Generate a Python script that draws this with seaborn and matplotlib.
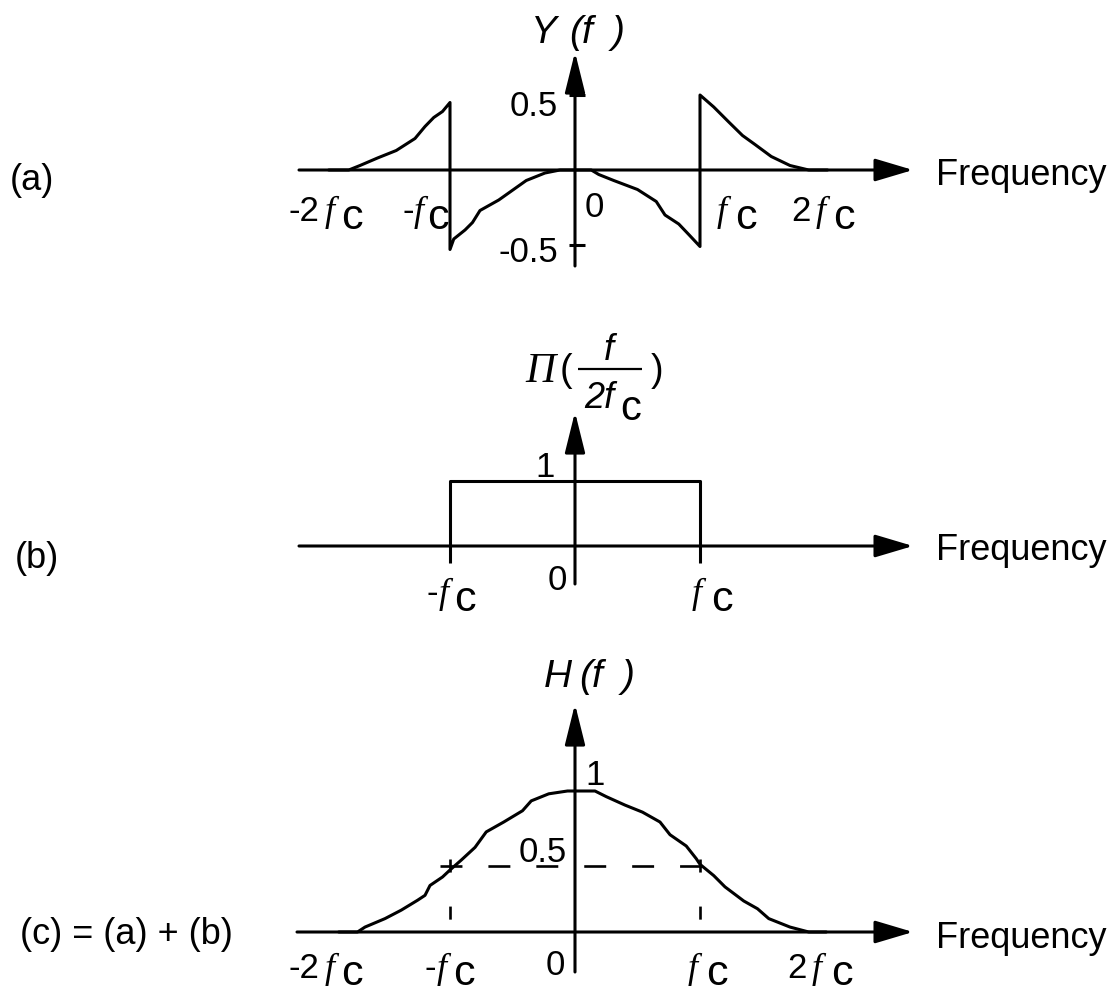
import matplotlib
matplotlib.use("Agg")
import matplotlib.pyplot as plt
import seaborn as sns

sns.set_theme(style="white")
plt.rcParams["font.family"] = ["Liberation Sans", "DejaVu Sans"]
plt.rcParams["text.color"] = "black"
plt.rcParams["lines.scale_dashes"] = False

SANS = "Liberation Sans"
SERIF = "Liberation Serif"
LW = 2.2
PT = 72 / 100  # points per pixel at 100 dpi
NUM = 25       # size of numeric labels

# ---- data (frequency in units of f_c) ----
# (a) Y(f): odd-symmetric correction spectrum
y_freq = [-1.97, -1.81, -1.72, -1.58, -1.43, -1.28, -1.20, -1.13, -1.06, -1.00,
          -1.00, -0.97, -0.88, -0.82, -0.76, -0.61, -0.39, -0.24, -0.12, 0.00,
          0.13, 0.19, 0.31, 0.50, 0.65, 0.72, 0.83, 0.91, 1.00,
          1.00, 1.11, 1.23, 1.34, 1.44, 1.57, 1.72, 1.87, 2.02]
y_vals = [0, 0, 0.03, 0.08, 0.13, 0.21, 0.29, 0.35, 0.39, 0.45,
          -0.53, -0.46, -0.40, -0.35, -0.27, -0.20, -0.07, -0.02, 0, 0,
          0, -0.03, -0.07, -0.13, -0.21, -0.30, -0.36, -0.43, -0.51,
          0.50, 0.42, 0.32, 0.23, 0.17, 0.09, 0.03, 0, 0]

# (b) ideal rectangular low-pass
rect_freq = [-1, -1, 1, 1]
rect_vals = [0, 1, 1, 0]

# (c) H(f) = (a) + (b)
h_freq = [-1.89, -1.74, -1.68, -1.52, -1.39, -1.26, -1.20, -1.16, -1.06, -1.00,
          -0.91, -0.80, -0.71, -0.57, -0.42, -0.35, -0.21, -0.06, 0.16, 0.25,
          0.40, 0.54, 0.68, 0.76, 0.89, 0.97, 1.00, 1.11, 1.20, 1.35,
          1.46, 1.55, 1.72, 1.87, 2.01]
h_vals = [0, 0, 0.035, 0.095, 0.155, 0.225, 0.26, 0.33, 0.39, 0.44,
          0.51, 0.60, 0.71, 0.78, 0.86, 0.93, 0.98, 1.0, 1.0, 0.96,
          0.90, 0.85, 0.78, 0.69, 0.61, 0.52, 0.48, 0.40, 0.32, 0.22,
          0.165, 0.095, 0.035, 0, 0]
h_half = 0.47

y_ticks_a = [0.5, -0.5]
y_ticklabels_a = ["0.5", "-0.5"]

# ---- layout (pixels) ----
W, H = 1120, 995
X0, FC = 575, 125          # pixel column of f = 0, pixels per f_c

fig = plt.figure(figsize=(W / 100, H / 100), dpi=100)


def panel(top, bottom, axis_row, unit):
    ax = fig.add_axes([0, (H - bottom) / H, 1, (bottom - top) / H])
    ax.set_xlim(-X0 / FC, (W - X0) / FC)
    ax.set_ylim(-(bottom - axis_row) / unit, (axis_row - top) / unit)
    return ax


def arrows(ax, unit, x_start_px, y_low_px, y_tip_px):
    hx0 = (x_start_px - X0) / FC
    hx1 = (913 - X0) / FC
    ax.annotate("", xy=(hx1, 0), xytext=(hx0, 0),
                arrowprops=dict(arrowstyle="-|>,head_length=2.35,head_width=0.7",
                                mutation_scale=10, lw=LW, color="black",
                                shrinkA=0, shrinkB=0), annotation_clip=False)
    ax.annotate("", xy=(0, y_tip_px / unit), xytext=(0, -y_low_px / unit),
                arrowprops=dict(arrowstyle="-|>,head_length=2.5,head_width=0.62",
                                mutation_scale=10, lw=LW, color="black",
                                shrinkA=0, shrinkB=0), annotation_clip=False)


def put(ax, s, x, y, dx, dy, size, family=SANS, style="normal", ha="left"):
    ax.annotate(s, xy=(x, y), xytext=(dx * PT, dy * PT), textcoords="offset points",
                ha=ha, va="baseline", fontsize=size, family=family, style=style,
                color="black", annotation_clip=False)


def fc_ticks(ax, specs, base, drop):
    for pos, prefix, dx_pre, dx_f, dx_c in specs:
        if prefix:
            put(ax, prefix, pos, 0, dx_pre, base, NUM)
        put(ax, "f", pos, 0, dx_f, base, 26, SERIF, "italic")
        put(ax, "c", pos, 0, dx_c, base - drop, 31)


def func_label(ax, letter, dxs, dy, size):
    for s, dx in zip([letter, "(", "f", ")"], dxs):
        put(ax, s, 0, 0, dx, dy, size, style="italic")


def curve(ax, xs, ys):
    sns.lineplot(x=xs, y=ys, sort=False, estimator=None, color="black",
                 lw=LW, ax=ax)


# ---------------- (a) ----------------
UA = 150
ax_a = panel(0, 300, 171, UA)
curve(ax_a, y_freq, y_vals)
arrows(ax_a, UA, 299, 96, 118)
ax_a.hlines(y_ticks_a, -6 / FC, 10 / FC, color="black", lw=LW)
for v, s, dy in zip(y_ticks_a, y_ticklabels_a, [-20, -16]):
    put(ax_a, s, 0, v, -17, dy, NUM, ha="right")
fc_ticks(ax_a, [(-2, "-2", -36, 0, 16), (-1, "-", -48, -36, -23),
                (1, "", 0, 17, 35), (2, "2", -34, -9, 8)], -50, 8)
put(ax_a, "0", 0, 0, 10, -46, NUM)
func_label(ax_a, "Y", [-44, -6, 7, 37], 128, 28)
ax_a.set_axis_off()

# ---------------- (b) ----------------
UB = 65
ax_b = panel(300, 640, 547, UB)
curve(ax_b, rect_freq, rect_vals)
arrows(ax_b, UB, 299, 38, 134)
ax_b.vlines([-1, 1], -17 / UB, 0, color="black", lw=LW)
fc_ticks(ax_b, [(-1, "-", -23, -11, 4), (1, "", 0, -8, 11)], -56, 8)
put(ax_b, "0", 0, 0, -27, -43, NUM)
put(ax_b, "1", 0, 1, -40, 5, NUM)
# Pi(f / 2f_c) label
put(ax_b, "\u03a0", 0, 0, -50, 165, 30, SERIF, "italic")
put(ax_b, "(", 0, 0, -15, 166, 27)
put(ax_b, "f", 0, 0, 29, 187, 26, style="italic")
put(ax_b, "2f", 0, 0, 9, 139, 26, style="italic")
put(ax_b, "c", 0, 0, 45, 127, 30)
put(ax_b, ")", 0, 0, 76, 166, 27)
ax_b.plot([(578 - X0) / FC, (642 - X0) / FC], [177 / UB, 177 / UB],
          color="black", lw=1.6, solid_capstyle="butt")
ax_b.set_axis_off()

# ---------------- (c) ----------------
UC = 141
ax_c = panel(640, 995, 933, UC)
curve(ax_c, h_freq, h_vals)
arrows(ax_c, UC, 297, 40, 228)
ax_c.plot([-1.08, 1.04], [h_half, h_half], color="black", lw=1.9,
          linestyle=(0, (15.8, 18.7)))
for xv in (-1, 1):
    ax_c.plot([xv, xv], [h_half + 7 / UC, 0], color="black", lw=1.9,
              linestyle=(0, (9.4, 24.5)))
fc_ticks(ax_c, [(-2, "-2", -36, 0, 16), (-1, "-", -25, -13, 3),
                (1, "", 0, -12, 6), (2, "2", -38, -13, 6)], -45, 7)
put(ax_c, "0", 0, 0, -29, -42, NUM)
put(ax_c, "1", 0, 1, 10, 7, NUM)
put(ax_c, "0.5", 0, h_half, -56, 5, NUM)
func_label(ax_c, "H", [-31, 4, 17, 47], 246, 28)
ax_c.set_axis_off()

# ---------------- side labels ----------------
for row, s in [(185, "Frequency"), (560, "Frequency"), (948, "Frequency")]:
    fig.text(936 / W, 1 - row / H, s, fontsize=26, family=SANS,
             va="baseline", ha="left", color="black")
for x, row, s in [(10, 190, "(a)"), (15, 568, "(b)"), (20, 944, "(c) = (a) + (b)")]:
    fig.text(x / W, 1 - row / H, s, fontsize=26, family=SANS,
             va="baseline", ha="left", color="black")

fig.savefig("out.png", dpi=100, facecolor="white")
